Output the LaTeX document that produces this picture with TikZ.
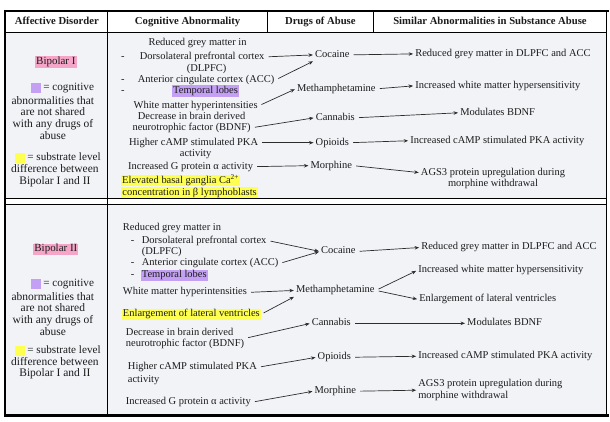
\documentclass[tikz,border=0pt]{standalone}
\usepackage{fontspec}
\setmainfont{Liberation Serif}
\usetikzlibrary{arrows.meta, positioning}
\definecolor{inkgray}{RGB}{28, 28, 28}
\definecolor{linegray}{RGB}{45, 45, 45}
\definecolor{bodybg}{RGB}{241, 243, 247}
\definecolor{hlpink}{RGB}{245, 165, 200}
\definecolor{hlpurple}{RGB}{196, 160, 244}
\definecolor{hlyellow}{RGB}{255, 255, 80}

\begin{document}
\begin{tikzpicture}[x=1pt, y=-1pt,
    base/.style={inner sep=1pt, text=inkgray},
    txt/.style={base, font=\fontsize{10.5}{12}\selectfont, text height=7.3pt, text depth=2.3pt},
    head/.style={txt, font=\fontsize{10.7}{12}\selectfont\bfseries},
    block/.style={base, font=\fontsize{10.5}{11.6}\selectfont},
    side/.style={base, font=\fontsize{11.5}{11.7}\selectfont, align=center},
    key/.style={txt, font=\fontsize{11.2}{12}\selectfont},
    hl/.style={txt, fill=#1},
    swatch/.style={minimum width=10pt, minimum height=10pt, inner sep=0pt, fill=#1},
    link/.style={draw=linegray, line width=0.7pt, shorten <=3pt, shorten >=1pt,
                 -{Stealth[length=4.5pt, width=3.5pt]}}
]
    % Table frame
    \fill[white] (0,0) rectangle (610,422);
    \fill[bodybg] (5,32) rectangle (608,416);
    \fill[white] (5,199) rectangle (608,205);
    \draw[line width=0.6pt] (5,32) -- (608,32);
    \foreach \x in {108,268,374} \draw[line width=0.8pt] (\x,12) -- (\x,32);
    \draw[line width=1.2pt] (108,32) -- (108,416);
    \draw[line width=1.6pt] (5,199) -- (608,199);
    \draw[line width=0.6pt] (5,205) -- (608,205);
    \draw[line width=0.8pt] (608,11) -- (608,417);
    \draw[line width=2.5pt] (5,11) -- (610,11);
    \draw[line width=2.5pt] (5,9.75) -- (5,417.75);
    \draw[line width=2.5pt] (5,416.5) -- (610,416.5);

    % Header
    \node[head] (hAff) at (57,22) {Affective Disorder};
    \node[head] (hCog) at (188,22) {Cognitive Abnormality};
    \node[head] (hDrug) at (321,22) {Drugs of Abuse};
    \node[head] (hSim) at (491,22) {Similar Abnormalities in Substance Abuse};

    % Row 1 - Bipolar I
    \node[hl=hlpink, font=\fontsize{11}{12}\selectfont] (bipolarA) at (56,62) {Bipolar I};
    \node[swatch=hlpurple] (keyPurpA) at (36,88) {};
    \node[key, right=1pt of keyPurpA] (keyPurpTxtA) {= cognitive};
    \node[side] (notSharedA) at (53,118) {abnormalities that\\are not shared\\with any drugs of\\abuse};
    \node[swatch=hlyellow] (keyYelA) at (20,158) {};
    \node[key, right=1pt of keyYelA] (keyYelTxtA) {= substrate level};
    \node[side] (diffA) at (55,176) {difference between\\Bipolar I and II};

    \node[txt] (redA) at (198,43) {Reduced grey matter in};
    \foreach \y [count=\i] in {57,80,91} \node[txt] (dashA\i) at (123,\y) {-};
    \node[txt, anchor=west] (dlpfcA) at (139,57) {Dorsolateral prefrontal cortex};
    \node[txt] (dlpfcAbbrA) at (207,69) {(DLPFC)};
    \node[txt, anchor=west] (accA) at (137,80) {Anterior cingulate cortex (ACC)};
    \node[hl=hlpurple] (temporalA) at (206,91) {Temporal lobes};
    \node[txt] (whiteA) at (196,106) {White matter hyperintensities};
    \node[txt] (decA) at (192,117) {Decrease in brain derived};
    \node[txt] (bdnfA) at (192,128) {neurotrophic factor (BDNF)};
    \node[txt] (pkaA) at (194,143) {Higher cAMP stimulated PKA};
    \node[txt] (actA) at (196,154) {activity};
    \node[txt] (gprotA) at (191,167) {Increased G protein α activity};
    \node[hl=hlyellow] (elevA) at (181,181) {Elevated basal ganglia Ca\textsuperscript{2+}};
    \node[hl=hlyellow] (concA) at (190,193) {concentration in β lymphoblasts};

    \node[txt] (cocaineA) at (333,55) {Cocaine};
    \node[txt] (methA) at (337,89) {Methamphetamine};
    \node[txt] (cannabisA) at (336,118) {Cannabis};
    \node[txt] (opioidsA) at (333,143) {Opioids};
    \node[txt] (morphineA) at (332,166) {Morphine};

    \node[txt, anchor=west] (greyA) at (415,54) {Reduced grey matter in DLPFC and ACC};
    \node[txt, anchor=west] (whitematA) at (415,86) {Increased white matter hypersensitivity};
    \node[txt, anchor=west] (modA) at (460,113) {Modulates BDNF};
    \node[txt, anchor=west] (campA) at (410,141) {Increased cAMP stimulated PKA activity};
    \node[block, align=center] (agsA) at (494,179) {AGS3 protein upregulation during\\morphine withdrawal};

    \draw[link] (dlpfcA.east) -- (cocaineA.west);
    \draw[link] (accA.east) -- (cocaineA.south west);
    \draw[link] (whiteA.east) -- (methA.west);
    \draw[link] (bdnfA.east) -- (cannabisA.west);
    \draw[link] (pkaA.east) -- (opioidsA.west);
    \draw[link] (gprotA.east) -- (morphineA.west);
    \draw[link] (cocaineA.east) -- (greyA.west);
    \draw[link] (methA.east) -- (whitematA.west);
    \draw[link] (cannabisA.east) -- (modA.west);
    \draw[link] (opioidsA.east) -- (campA.west);
    \draw[link] (morphineA.east) -- ([yshift=6pt]agsA.west);

    % Row 2 - Bipolar II
    \node[hl=hlpink, font=\fontsize{11}{12}\selectfont] (bipolarB) at (56,250) {Bipolar II};
    \node[swatch=hlpurple] (keyPurpB) at (36,285) {};
    \node[key, right=1pt of keyPurpB] (keyPurpTxtB) {= cognitive};
    \node[side] (notSharedB) at (53,314.5) {abnormalities that\\are not shared\\with any drugs of\\abuse};
    \node[swatch=hlyellow] (keyYelB) at (20,352) {};
    \node[key, right=1pt of keyYelB] (keyYelTxtB) {= substrate level};
    \node[side] (diffB) at (55,369) {difference between\\Bipolar I and II};

    \node[txt, anchor=west] (redB) at (122,228) {Reduced grey matter in};
    \foreach \y [count=\i] in {241,264,276} \node[txt] (dashB\i) at (133,\y) {-};
    \node[txt, anchor=west] (dlpfcB) at (141,241) {Dorsolateral prefrontal cortex};
    \node[txt, anchor=west] (dlpfcAbbrB) at (141,253) {(DLPFC)};
    \node[txt, anchor=west] (accB) at (141,264) {Anterior cingulate cortex (ACC)};
    \node[hl=hlpurple, anchor=west] (temporalB) at (141,276) {Temporal lobes};
    \node[txt, anchor=west] (whiteB) at (122,293) {White matter hyperintensities};
    \node[hl=hlyellow, anchor=west] (ventriclesB) at (122,315) {Enlargement of lateral ventricles};
    \node[block, align=left, anchor=west] (bdnfB) at (125,339) {Decrease in brain derived\\neurotrophic factor (BDNF)};
    \node[txt, anchor=west] (pkaB) at (127,368) {Higher cAMP stimulated PKA};
    \node[txt, anchor=west] (actB) at (127,381) {activity};
    \node[txt, anchor=west] (gprotB) at (125,403) {Increased G protein α activity};

    \node[txt] (cocaineB) at (339,252) {Cocaine};
    \node[txt] (methB) at (336,291) {Methamphetamine};
    \node[txt] (cannabisB) at (332,324) {Cannabis};
    \node[txt] (opioidsB) at (335,358) {Opioids};
    \node[txt] (morphineB) at (336,392) {Morphine};

    \node[txt, anchor=west] (greyB) at (421,248) {Reduced grey matter in DLPFC and ACC};
    \node[txt, anchor=west] (whitematB) at (418,271) {Increased white matter hypersensitivity};
    \node[txt, anchor=west] (ventB) at (419,300) {Enlargement of lateral ventricles};
    \node[txt, anchor=west] (modB) at (467,324) {Modulates BDNF};
    \node[txt, anchor=west] (campB) at (418,357) {Increased cAMP stimulated PKA activity};
    \node[block, align=left, anchor=west] (agsB) at (418,391) {AGS3 protein upregulation during\\morphine withdrawal};

    \draw[link] (dlpfcB.east) -- (cocaineB.west);
    \draw[link] (accB.east) -- (cocaineB.west);
    \draw[link] (whiteB.east) -- (methB.west);
    \draw[link] (ventriclesB.east) -- (methB.south west);
    \draw[link] (bdnfB.east) -- (cannabisB.west);
    \draw[link] (pkaB.east) -- (opioidsB.west);
    \draw[link] (gprotB.east) -- (morphineB.west);
    \draw[link] (cocaineB.east) -- (greyB.west);
    \draw[link] (methB.east) -- (whitematB.west);
    \draw[link] (methB.east) -- (ventB.west);
    \draw[link] (cannabisB.east) -- (modB.west);
    \draw[link] (opioidsB.east) -- (campB.west);
    \draw[link] (morphineB.east) -- (agsB.west);
\end{tikzpicture}
\end{document}
